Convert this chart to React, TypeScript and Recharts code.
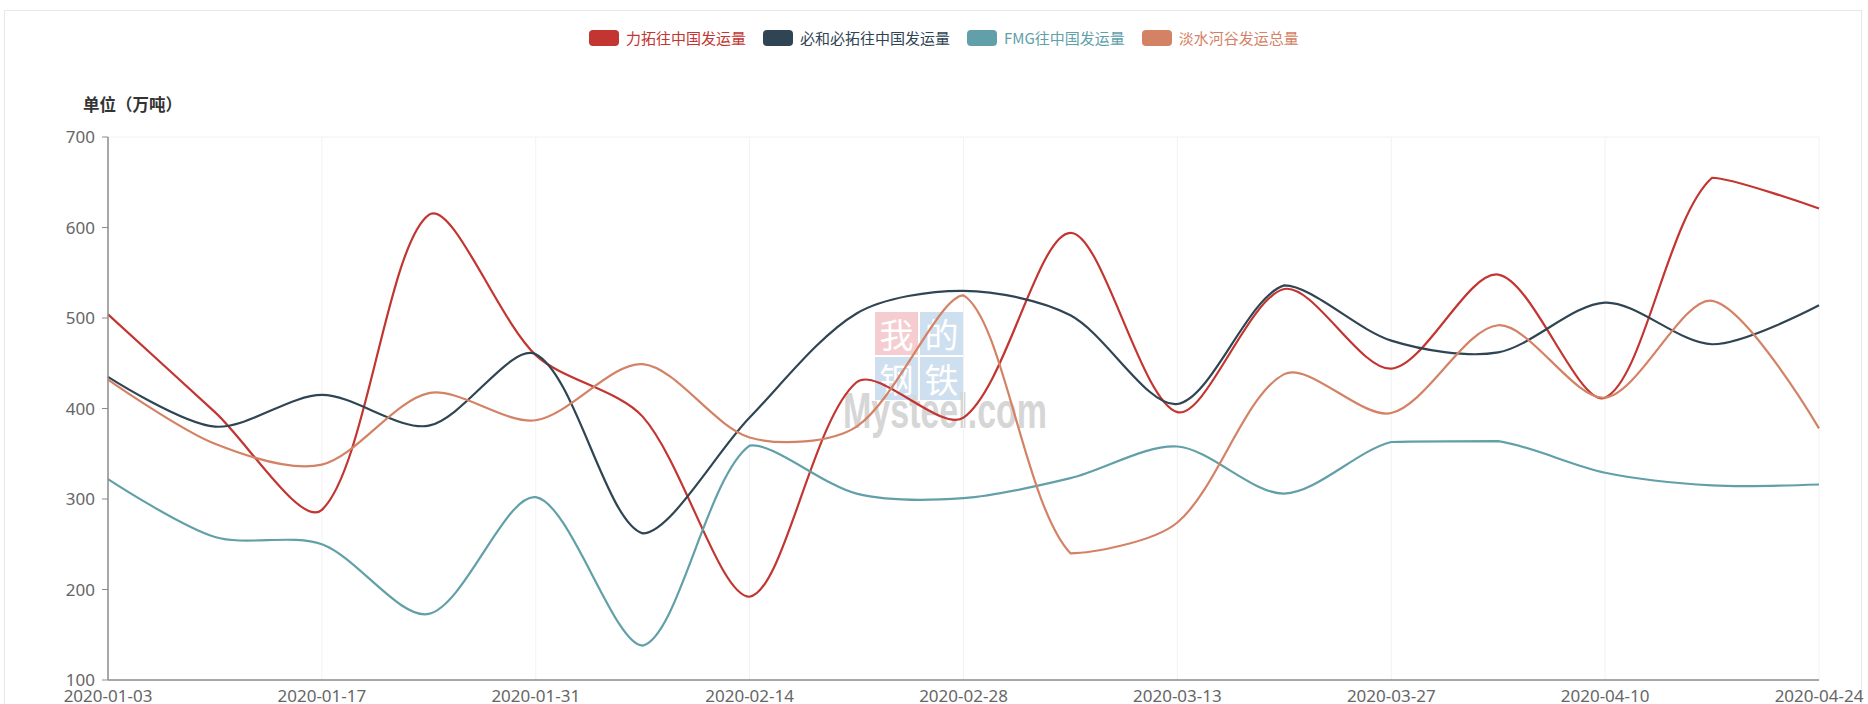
import { CartesianGrid, Line, LineChart, XAxis, YAxis } from 'recharts';

const dates = [
  '2020-01-03', '2020-01-10', '2020-01-17', '2020-01-24', '2020-01-31', '2020-02-07',
  '2020-02-14', '2020-02-21', '2020-02-28', '2020-03-06', '2020-03-13', '2020-03-20',
  '2020-03-27', '2020-04-03', '2020-04-10', '2020-04-17', '2020-04-24',
];
const tickDates = [
  '2020-01-03', '2020-01-17', '2020-01-31', '2020-02-14', '2020-02-28',
  '2020-03-13', '2020-03-27', '2020-04-10', '2020-04-24',
];
const yTicks = [100, 200, 300, 400, 500, 600, 700];

const rioTinto = [504, 396, 288, 614, 459, 391, 192, 429, 390, 594, 396, 532, 444, 548, 412, 655, 621];
const bhp = [435, 380, 415, 381, 460, 262, 390, 505, 530, 503, 405, 536, 475, 462, 517, 471, 514];
const fmg = [322, 258, 250, 173, 302, 138, 359, 306, 301, 323, 358, 306, 363, 364, 329, 315, 316];
const vale = [432, 361, 338, 417, 387, 449, 368, 380, 525, 240, 274, 438, 395, 492, 412, 519, 378];

const series = [
  { key: 'rio', name: '力拓往中国发运量', color: '#c23531' },
  { key: 'bhp', name: '必和必拓往中国发运量', color: '#2f4554' },
  { key: 'fmg', name: 'FMG往中国发运量', color: '#61a0a8' },
  { key: 'vale', name: '淡水河谷发运总量', color: '#d48265' },
];

const data = dates.map((date, i) => ({
  date,
  rio: rioTinto[i],
  bhp: bhp[i],
  fmg: fmg[i],
  vale: vale[i],
}));

const cjk = '"Noto Sans CJK SC", "Noto Sans", sans-serif';

// echarts-style smoothing, control points kept inside the points' bounding box
function echartsSmooth(context: any) {
  let pts: number[][] = [];
  const smooth = 0.3;
  return {
    areaStart() {},
    areaEnd() {},
    lineStart() {
      pts = [];
    },
    point(x: number, y: number) {
      pts.push([+x, +y]);
    },
    lineEnd() {
      const n = pts.length;
      if (!n) return;
      let minX = Infinity, minY = Infinity, maxX = -Infinity, maxY = -Infinity;
      pts.forEach(([x, y]) => {
        minX = Math.min(minX, x); maxX = Math.max(maxX, x);
        minY = Math.min(minY, y); maxY = Math.max(maxY, y);
      });
      const clamp = (p: number[]) => [
        Math.max(minX, Math.min(maxX, p[0])),
        Math.max(minY, Math.min(maxY, p[1])),
      ];
      context.moveTo(pts[0][0], pts[0][1]);
      let cp0 = [...pts[0]];
      for (let i = 1; i < n; i++) {
        const p = pts[i];
        const prev = pts[i - 1];
        const next = pts[i + 1];
        let cp1 = [...p];
        let nextCp0 = [...p];
        if (next) {
          const vx = next[0] - prev[0];
          const vy = next[1] - prev[1];
          const lp = Math.hypot(p[0] - prev[0], p[1] - prev[1]);
          const ln = Math.hypot(p[0] - next[0], p[1] - next[1]);
          const r = ln + lp === 0 ? 0.5 : ln / (ln + lp);
          cp1 = [p[0] - vx * smooth * (1 - r), p[1] - vy * smooth * (1 - r)];
          nextCp0 = [p[0] + vx * smooth * r, p[1] + vy * smooth * r];
        }
        const a = clamp(cp0);
        const b = clamp(cp1);
        context.bezierCurveTo(a[0], a[1], b[0], b[1], p[0], p[1]);
        cp0 = nextCp0;
      }
    },
  };
}

function Legend() {
  return (
    <div style={{ position: 'absolute', left: 589, top: 30, display: 'flex', alignItems: 'center', fontFamily: cjk, fontSize: 15 }}>
      {series.map((s) => (
        <div key={s.key} style={{ display: 'flex', alignItems: 'center', marginRight: 17 }}>
          <span style={{ width: 30, height: 16, borderRadius: 4, background: s.color, marginRight: 7 }} />
          <span style={{ color: s.color, lineHeight: '16px' }}>{s.name}</span>
        </div>
      ))}
    </div>
  );
}

function Watermark() {
  const box = (bg: string, ch: string, left: number, top: number) => (
    <div
      style={{
        position: 'absolute', left, top, width: 43, height: 43, background: bg,
        color: '#fff', fontSize: 34, lineHeight: '43px', textAlign: 'center', fontFamily: cjk,
      }}
    >
      {ch}
    </div>
  );
  return (
    <div style={{ position: 'absolute', left: 0, top: 0, opacity: 0.9 }}>
      {box('#f5c8cd', '我', 875, 312)}
      {box('#c9dcee', '的', 920, 312)}
      {box('#c9dcee', '钢', 875, 357)}
      {box('#c9dcee', '铁', 920, 357)}
      <div
        style={{
          position: 'absolute', left: 843, top: 386, fontFamily: '"Liberation Sans", Arial, sans-serif',
          fontWeight: 'bold', fontSize: 50, lineHeight: '50px', color: '#d2d2d2',
          transform: 'scaleX(0.68)', transformOrigin: 'left top', whiteSpace: 'nowrap',
        }}
      >
        Mysteel.com
      </div>
    </div>
  );
}

export default function App() {
  return (
    <div style={{ position: 'absolute', left: 0, top: 0, width: 1868, height: 704, overflow: 'hidden', background: '#fff' }}>
      <div style={{ position: 'absolute', left: 4, top: 10, width: 1858, height: 720, border: '1px solid #e8e8e8', boxSizing: 'border-box' }} />
      <Watermark />
      <Legend />
      <div style={{ position: 'absolute', left: 83, top: 93, fontFamily: cjk, fontSize: 16.5, fontWeight: 'bold', color: '#333', lineHeight: '22px' }}>
        单位（万吨）
      </div>
      <div style={{ position: 'absolute', left: 0, top: 0 }}>
        <LineChart width={1868} height={720} data={data} margin={{ top: 137, right: 49, bottom: 10, left: 48 }}>
          <CartesianGrid stroke="#f2f2f2" />
          <XAxis
            dataKey="date"
            ticks={tickDates}
            interval={0}
            tickLine={false}
            tickSize={6}
            tickMargin={4}
            height={30}
            axisLine={{ stroke: '#8c8c8c', strokeWidth: 1.5 }}
            tick={{ fill: '#666', fontSize: 17, fontFamily: '"Noto Sans", sans-serif' }}
          />
          <YAxis
            yAxisId="left"
            domain={[100, 700]}
            ticks={yTicks}
            interval={0}
            width={60}
            tickSize={6}
            tickMargin={7}
            axisLine={{ stroke: '#8c8c8c', strokeWidth: 1.5 }}
            tickLine={{ stroke: '#8c8c8c' }}
            tick={{ fill: '#666', fontSize: 17, fontFamily: '"Noto Sans", sans-serif' }}
          />
          <YAxis
            yAxisId="right"
            orientation="right"
            width={0}
            tick={false}
            tickLine={false}
            axisLine={{ stroke: '#8c8c8c', strokeWidth: 1.5 }}
          />
          {series.map((s) => (
            <Line
              key={s.key}
              yAxisId="left"
              dataKey={s.key}
              name={s.name}
              type={echartsSmooth as any}
              stroke={s.color}
              strokeWidth={2.2}
              dot={false}
              activeDot={false}
              isAnimationActive={false}
            />
          ))}
        </LineChart>
      </div>
    </div>
  );
}
